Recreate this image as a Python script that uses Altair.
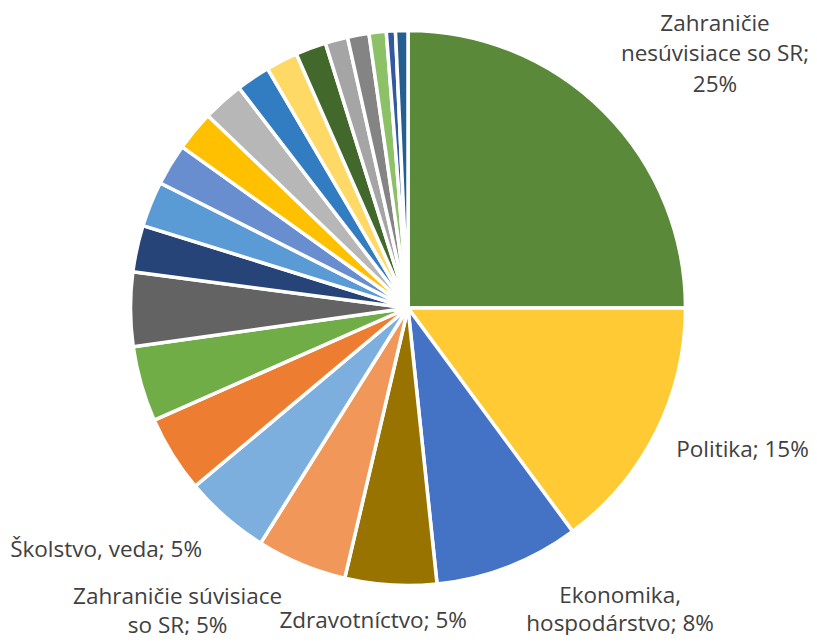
import altair as alt
import pandas as pd

# Categories in clockwise order from 12 o'clock (unlabelled ones are unnamed in the source)
categories = [
    "Zahraničie nesúvisiace so SR", "Politika", "Ekonomika, hospodárstvo",
    "Zdravotníctvo", "Zahraničie súvisiace so SR", "Školstvo, veda",
    "Téma 7", "Téma 8", "Téma 9", "Téma 10", "Téma 11", "Téma 12",
    "Téma 13", "Téma 14", "Téma 15", "Téma 16", "Téma 17", "Téma 18",
    "Téma 19", "Téma 20", "Téma 21", "Téma 22",
]
# Shares in percent
values = [25.0, 14.89, 8.44, 5.33, 5.25, 5.0, 4.47, 4.39, 4.31, 2.72, 2.64,
          2.42, 2.33, 2.39, 1.97, 1.86, 1.78, 1.31, 1.25, 1.0, 0.53, 0.72]
colors = ["#5A8A39", "#FFCA33", "#4472C4", "#997300", "#F1975A", "#7CAFDD",
          "#ED7D31", "#70AD47", "#636363", "#264478", "#5B9BD5", "#698ED0",
          "#FFC000", "#B7B7B7", "#327DC2", "#FFD966", "#43682B", "#A5A5A5",
          "#848484", "#8CC168", "#335AA1", "#255E91"]
# Data label texts (only six slices carry a label)
label_texts = {
    "Zahraničie nesúvisiace so SR": ["Zahraničie", "nesúvisiace so SR;", "25%"],
    "Politika": ["Politika; 15%"],
    "Ekonomika, hospodárstvo": ["Ekonomika,", "hospodárstvo; 8%"],
    "Zdravotníctvo": ["Zdravotníctvo; 5%"],
    "Zahraničie súvisiace so SR": ["Zahraničie súvisiace", "so SR; 5%"],
    "Školstvo, veda": ["Školstvo, veda; 5%"],
}
# label nudges (dx, dy, lineHeight), like manually moved data labels
label_nudges = {
    "Zahraničie nesúvisiace so SR": (66.6, -43.6, 30.5),
    "Politika": (31, -11.3, 30),
    "Ekonomika, hospodárstvo": (89.1, -29, 28),
    "Zdravotníctvo": (-13.6, -26.3, 30),
    "Zahraničie súvisiace so SR": (-99.6, -24.8, 28.5),
    "Školstvo, veda": (-78.5, -14.2, 30),
}

df = pd.DataFrame({"cat": categories, "val": values, "order": list(range(len(categories)))})

base = alt.Chart(df).transform_joinaggregate(
    total="sum(val)"
).transform_window(
    cum="sum(val)", sort=[alt.SortField("order")], frame=[None, 0]
).transform_calculate(
    start="(datum.cum - datum.val) / datum.total * 360",
    end="datum.cum / datum.total * 360",
    mid="(datum.cum - datum.val / 2) / datum.total * 360",
)

theta_scale = alt.Scale(domain=[0, 360])

arcs = base.mark_arc(outerRadius=277.5, stroke="white", strokeWidth=3.5).encode(
    theta=alt.Theta("start:Q", scale=theta_scale, stack=None),
    theta2="end:Q",
    color=alt.Color("cat:N", scale=alt.Scale(domain=categories, range=colors), legend=None),
    order=alt.Order("order:Q"),
)

layers = [arcs]
for cat, lines in label_texts.items():
    dx, dy, lh = label_nudges[cat]
    t = base.transform_filter(alt.datum.cat == cat).mark_text(
        radius=340, dx=dx, dy=dy, font="Open Sans", fontSize=22.5,
        color="#404040", align="center", baseline="middle", lineHeight=lh,
    ).encode(
        theta=alt.Theta("mid:Q", scale=theta_scale, stack=None),
        text=alt.value(lines),
    )
    layers.append(t)

chart = alt.layer(*layers).properties(
    width=800, height=600,
    autosize=alt.AutoSizeParams(type="none"),
    padding={"left": 0, "top": 0, "right": 1, "bottom": 27},
).configure_view(stroke=None)

chart.save("out.html", embed_options={"renderer": "svg", "actions": False})
